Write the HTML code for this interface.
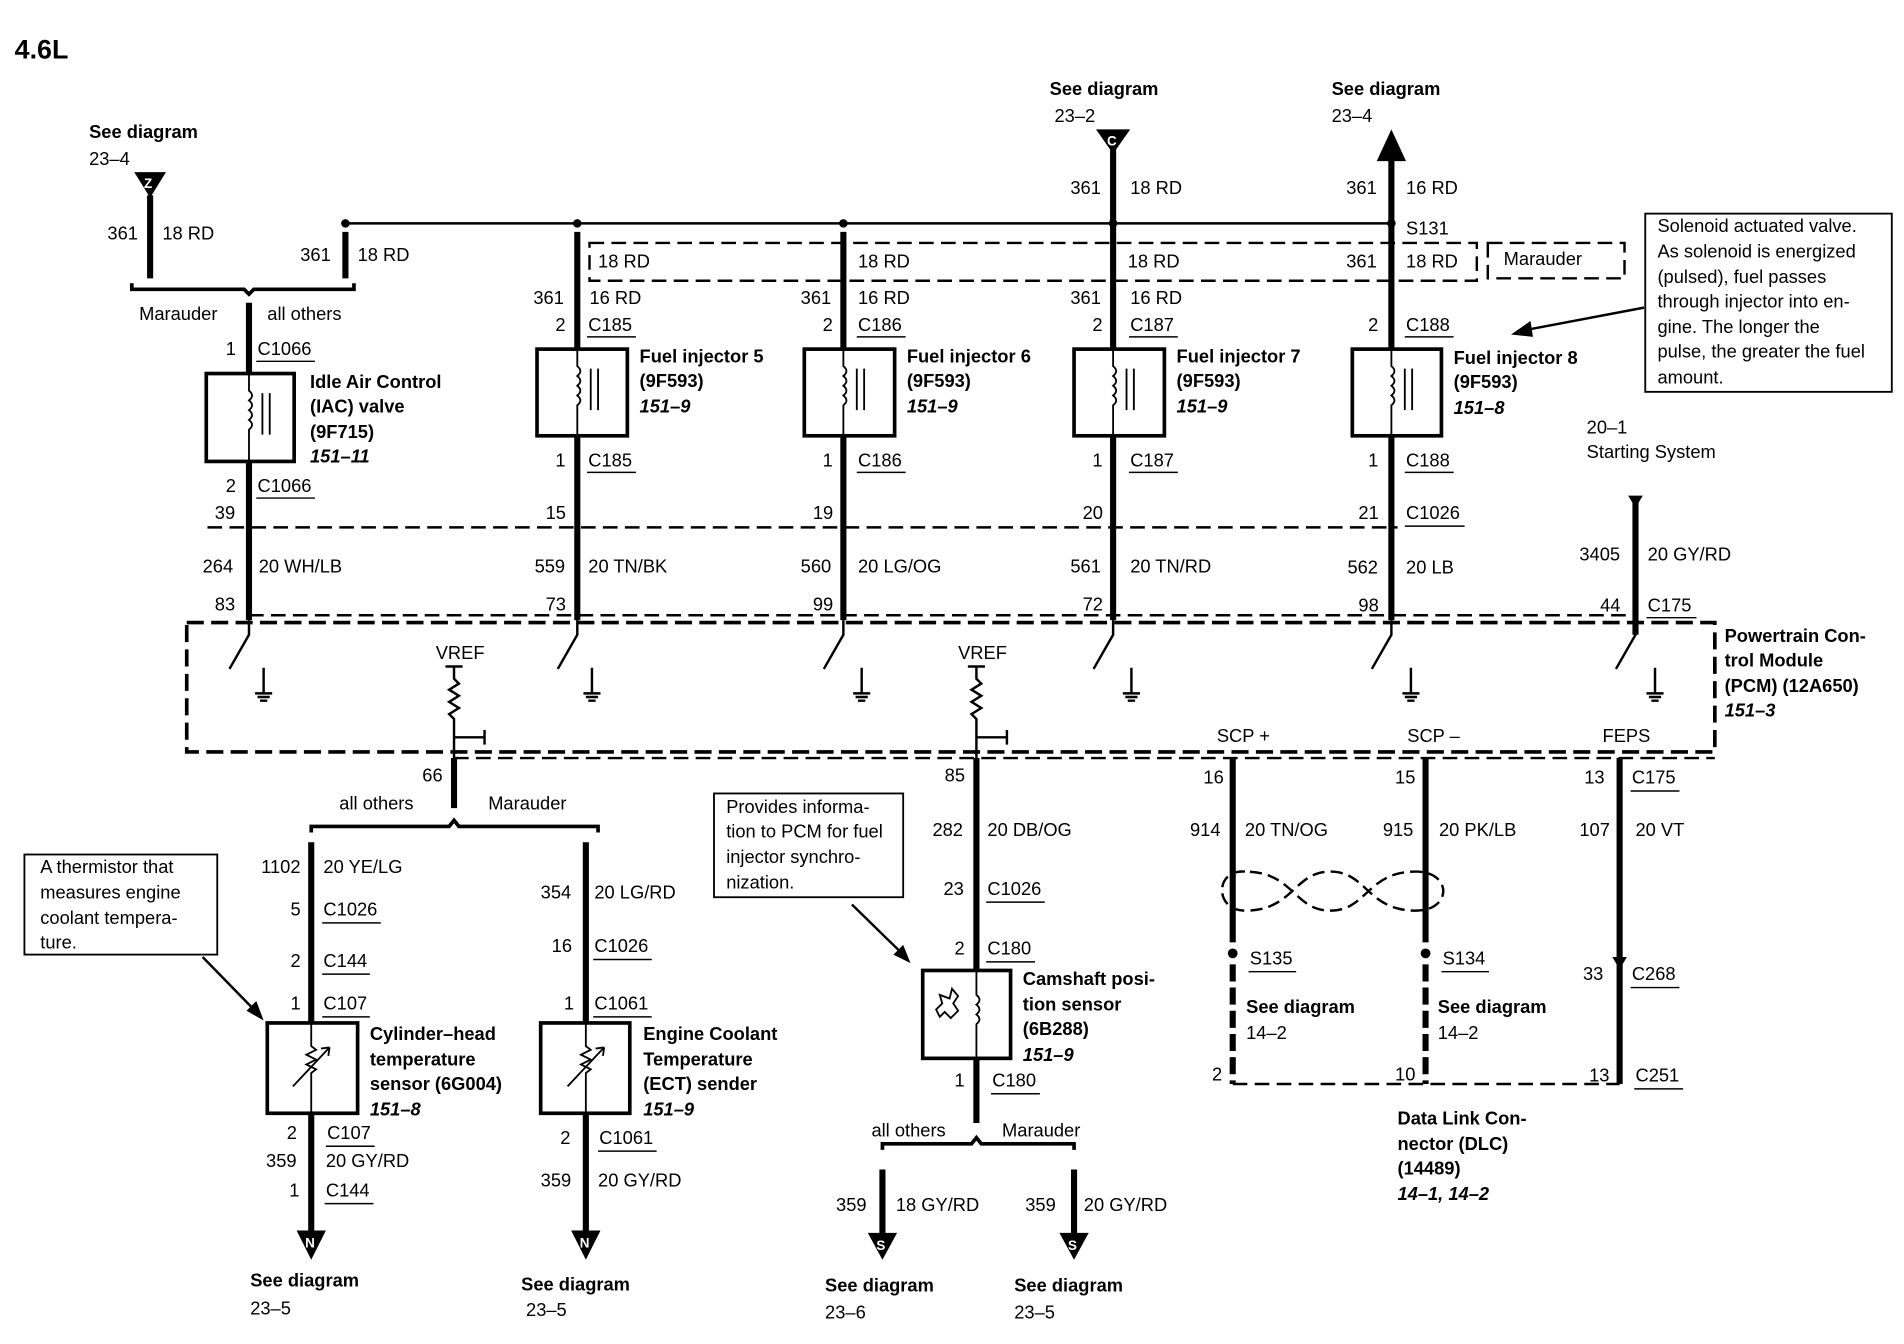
<!DOCTYPE html>
<html><head><meta charset="utf-8"><style>
html,body{margin:0;padding:0;background:#fff;}
svg{display:block;}
text{font-family:"Liberation Sans",sans-serif;font-size:15px;fill:#000;}
.b{font-weight:bold;}
.bi{font-weight:bold;font-style:italic;}
.w{stroke:#000;stroke-width:5;fill:none;}
.t{stroke:#000;stroke-width:2;fill:none;}
.d{stroke:#000;stroke-width:2;fill:none;stroke-dasharray:12,6;}
.D{stroke:#000;stroke-width:3;fill:none;stroke-dasharray:14,6;}
.bx{stroke:#000;stroke-width:3;fill:#fff;}
.nb{stroke:#000;stroke-width:1.5;fill:#fff;}
.u{stroke:#000;stroke-width:1.2;}
</style></head><body>
<svg width="1904" height="1344" viewBox="0 0 1560 1101" preserveAspectRatio="none" xmlns="http://www.w3.org/2000/svg">
<text x="12" y="48" class="b" style="font-size:22px">4.6L</text>

<!-- top bus -->
<line x1="283" y1="183" x2="1140" y2="183" class="t"/>
<circle cx="283" cy="183" r="3.5"/><circle cx="473" cy="183" r="3.5"/><circle cx="691" cy="183" r="3.5"/><circle cx="912" cy="183" r="3.5"/><circle cx="1140" cy="183" r="3.5"/>
<rect x="483" y="199" width="727" height="31" class="d"/>
<rect x="1219" y="199" width="112" height="29" class="d"/>
<text x="1232" y="217">Marauder</text>

<!-- Z left -->
<text x="73" y="113" class="b">See diagram</text><text x="73" y="135">23–4</text>
<polygon points="110,141 136,141 123,162"/><text x="118" y="154" style="fill:#fff;font-size:11px" class="b">Z</text>
<line x1="123" y1="160" x2="123" y2="228" class="w"/>
<text x="88" y="196">361</text><text x="133" y="196">18 RD</text>
<line x1="283" y1="190" x2="283" y2="228" class="w"/>
<text x="246" y="214">361</text><text x="293" y="214">18 RD</text>
<path d="M108,232 V237 H200 L204,241 L208,237 H290 V232" class="t" style="stroke-width:3"/>
<text x="114" y="262">Marauder</text><text x="219" y="262">all others</text>
<line x1="204" y1="248" x2="204" y2="508" class="w"/>
<text x="185" y="291">1</text><text x="211" y="291">C1066</text><line x1="210" y1="296" x2="258" y2="296" class="u"/>
<rect x="169" y="306" width="72" height="72" class="bx"/>
<text x="254" y="318" class="b">Idle Air Control</text><text x="254" y="338" class="b">(IAC) valve</text><text x="254" y="359" class="b">(9F715)</text><text x="254" y="379" class="bi">151–11</text>
<text x="185" y="403">2</text><text x="211" y="403">C1066</text><line x1="210" y1="408" x2="258" y2="408" class="u"/>
<text x="176" y="425">39</text>
<line x1="170" y1="432" x2="1145" y2="432" class="d"/>
<text x="166" y="469">264</text><text x="212" y="469">20 WH/LB</text>
<text x="176" y="500">83</text>

<!-- injectors -->
<line x1="473" y1="190" x2="473" y2="508" class="w"/>
<line x1="691" y1="190" x2="691" y2="508" class="w"/>
<line x1="912" y1="120" x2="912" y2="508" class="w"/>
<line x1="1140" y1="130" x2="1140" y2="508" class="w"/>
<text x="490" y="219">18 RD</text><text x="703" y="219">18 RD</text><text x="924" y="219">18 RD</text><text x="1103" y="219">361</text><text x="1152" y="219">18 RD</text>

<text x="860" y="78" class="b">See diagram</text><text x="864" y="100">23–2</text>
<polygon points="898,106 926,106 912,126"/><text x="907" y="119" style="fill:#fff;font-size:11px" class="b">C</text>
<text x="877" y="159">361</text><text x="926" y="159">18 RD</text>
<text x="1091" y="78" class="b">See diagram</text><text x="1091" y="100">23–4</text>
<polygon points="1128,132 1152,132 1140,106"/>
<text x="1103" y="159">361</text><text x="1152" y="159">16 RD</text>
<text x="1152" y="192">S131</text>

<g>
<text x="437" y="249">361</text><text x="483" y="249">16 RD</text>
<text x="455" y="271">2</text><text x="482" y="271">C185</text><line x1="481" y1="276" x2="521" y2="276" class="u"/>
<rect x="440" y="286" width="74" height="71" class="bx"/>
<text x="524" y="297" class="b">Fuel injector 5</text><text x="524" y="317" class="b">(9F593)</text><text x="524" y="338" class="bi">151–9</text>
<text x="455" y="382">1</text><text x="482" y="382">C185</text><line x1="481" y1="387" x2="521" y2="387" class="u"/>
<text x="447" y="425">15</text>
<text x="438" y="469">559</text><text x="482" y="469">20 TN/BK</text>
<text x="447" y="500">73</text>
</g>
<g>
<text x="656" y="249">361</text><text x="703" y="249">16 RD</text>
<text x="674" y="271">2</text><text x="703" y="271">C186</text><line x1="702" y1="276" x2="742" y2="276" class="u"/>
<rect x="659" y="286" width="74" height="71" class="bx"/>
<text x="743" y="297" class="b">Fuel injector 6</text><text x="743" y="317" class="b">(9F593)</text><text x="743" y="338" class="bi">151–9</text>
<text x="674" y="382">1</text><text x="703" y="382">C186</text><line x1="702" y1="387" x2="742" y2="387" class="u"/>
<text x="666" y="425">19</text>
<text x="656" y="469">560</text><text x="703" y="469">20 LG/OG</text>
<text x="666" y="500">99</text>
</g>
<g>
<text x="877" y="249">361</text><text x="926" y="249">16 RD</text>
<text x="895" y="271">2</text><text x="926" y="271">C187</text><line x1="925" y1="276" x2="965" y2="276" class="u"/>
<rect x="880" y="286" width="74" height="71" class="bx"/>
<text x="964" y="297" class="b">Fuel injector 7</text><text x="964" y="317" class="b">(9F593)</text><text x="964" y="338" class="bi">151–9</text>
<text x="895" y="382">1</text><text x="926" y="382">C187</text><line x1="925" y1="387" x2="965" y2="387" class="u"/>
<text x="887" y="425">20</text>
<text x="877" y="469">561</text><text x="926" y="469">20 TN/RD</text>
<text x="887" y="500">72</text>
</g>
<g>
<text x="1121" y="271">2</text><text x="1152" y="271">C188</text><line x1="1151" y1="276" x2="1191" y2="276" class="u"/>
<rect x="1108" y="286" width="73" height="71" class="bx"/>
<text x="1191" y="298" class="b">Fuel injector 8</text><text x="1191" y="318" class="b">(9F593)</text><text x="1191" y="339" class="bi">151–8</text>
<text x="1121" y="382">1</text><text x="1152" y="382">C188</text><line x1="1151" y1="387" x2="1191" y2="387" class="u"/>
<text x="1113" y="425">21</text><text x="1152" y="425">C1026</text><line x1="1151" y1="431" x2="1200" y2="431" class="u"/>
<text x="1104" y="470">562</text><text x="1152" y="470">20 LB</text>
<text x="1113" y="501">98</text>
</g>
<!-- coil symbols -->
<g class="t" style="stroke-width:1.5">
<path d="M204,306 V320 q5,4 0,8 q5,4 0,8 q5,4 0,8 q5,4 0,8 V378 M215,322 V356 M221,322 V356"/>
<path d="M473,286 V300 q5,4 0,8 q5,4 0,8 q5,4 0,8 q5,4 0,8 V357 M484,302 V336 M490,302 V336"/>
<path d="M691,286 V300 q5,4 0,8 q5,4 0,8 q5,4 0,8 q5,4 0,8 V357 M702,302 V336 M708,302 V336"/>
<path d="M912,286 V300 q5,4 0,8 q5,4 0,8 q5,4 0,8 q5,4 0,8 V357 M923,302 V336 M929,302 V336"/>
<path d="M1140,286 V300 q5,4 0,8 q5,4 0,8 q5,4 0,8 q5,4 0,8 V357 M1151,302 V336 M1157,302 V336"/>
</g>

<!-- solenoid note -->
<rect x="1348" y="175" width="202" height="146" class="nb"/>
<text x="1358" y="190">Solenoid actuated valve.</text><text x="1358" y="211">As solenoid is energized</text><text x="1358" y="232">(pulsed), fuel passes</text><text x="1358" y="252">through injector into en-</text><text x="1358" y="273">gine. The longer the</text><text x="1358" y="293">pulse, the greater the fuel</text><text x="1358" y="314">amount.</text>
<line x1="1347" y1="252" x2="1252" y2="270" class="t"/><polygon points="1238,274 1254,263 1256,276"/>

<text x="1300" y="355">20–1</text><text x="1300" y="375">Starting System</text>
<line x1="1340" y1="408" x2="1340" y2="520" class="w"/>
<polygon points="1334,406 1346,406 1340,416"/>
<text x="1294" y="459">3405</text><text x="1350" y="459">20 GY/RD</text>
<text x="1311" y="501">44</text><text x="1350" y="501">C175</text><line x1="1349" y1="506" x2="1390" y2="506" class="u"/>

<!-- PCM -->
<line x1="204" y1="504" x2="1340" y2="504" class="d"/>
<rect x="153" y="510" width="1252" height="106" class="D"/>
<line x1="372" y1="621" x2="1405" y2="621" class="d"/>
<text x="1413" y="526" class="b">Powertrain Con-</text><text x="1413" y="546" class="b">trol Module</text><text x="1413" y="567" class="b">(PCM) (12A650)</text><text x="1413" y="587" class="bi">151–3</text>
<g class="t">
<path d="M204,508 V520 L188,548 M473,508 V520 L457,548 M691,508 V520 L675,548 M912,508 V520 L896,548 M1140,508 V520 L1124,548 M1340,508 V520 L1324,548"/>
<path d="M216,547 V568 M209,568 H223 M211,571 H221 M213,574 H219"/>
<path d="M485,547 V568 M478,568 H492 M480,571 H490 M482,574 H488"/>
<path d="M706,547 V568 M699,568 H713 M701,571 H711 M703,574 H709"/>
<path d="M927,547 V568 M920,568 H934 M922,571 H932 M924,574 H930"/>
<path d="M1156,547 V568 M1149,568 H1163 M1151,571 H1161 M1153,574 H1159"/>
<path d="M1356,547 V568 M1349,568 H1363 M1351,571 H1361 M1353,574 H1359"/>
<path d="M365,546 H379 M372,546 V556 l4,4 l-8,5 l8,5 l-8,5 l8,5 l-8,5 l4,4 V621 M372,604 H397 M397,598 V610"/>
<path d="M793,546 H807 M800,546 V556 l4,4 l-8,5 l8,5 l-8,5 l8,5 l-8,5 l4,4 V621 M800,604 H825 M825,598 V610"/>
</g>
<text x="357" y="540">VREF</text><text x="785" y="540">VREF</text>
<text x="997" y="608">SCP +</text><text x="1153" y="608">SCP –</text><text x="1313" y="608">FEPS</text>

<!-- lower left -->
<line x1="372" y1="621" x2="372" y2="662" class="w"/>
<text x="346" y="640">66</text>
<path d="M255,682 V677 H368 L372,672 L376,677 H490 V682" class="t" style="stroke-width:3"/>
<text x="278" y="663">all others</text><text x="400" y="663">Marauder</text>
<line x1="255" y1="690" x2="255" y2="1010" class="w"/>
<line x1="480" y1="690" x2="480" y2="1010" class="w"/>
<polygon points="243,1008 267,1008 255,1032"/><text x="250" y="1022" style="fill:#fff;font-size:11px" class="b">N</text>
<polygon points="468,1008 492,1008 480,1032"/><text x="475" y="1022" style="fill:#fff;font-size:11px" class="b">N</text>
<text x="214" y="715">1102</text><text x="265" y="715">20 YE/LG</text>
<text x="238" y="750">5</text><text x="265" y="750">C1026</text><line x1="264" y1="756" x2="312" y2="756" class="u"/>
<text x="238" y="792">2</text><text x="265" y="792">C144</text><line x1="264" y1="798" x2="303" y2="798" class="u"/>
<text x="238" y="827">1</text><text x="265" y="827">C107</text><line x1="264" y1="833" x2="303" y2="833" class="u"/>
<rect x="219" y="838" width="74" height="74" class="bx"/>
<text x="303" y="852" class="b">Cylinder–head</text><text x="303" y="873" class="b">temperature</text><text x="303" y="893" class="b">sensor (6G004)</text><text x="303" y="914" class="bi">151–8</text>
<text x="235" y="933">2</text><text x="268" y="933">C107</text><line x1="267" y1="939" x2="307" y2="939" class="u"/>
<text x="218" y="956">359</text><text x="267" y="956">20 GY/RD</text>
<text x="237" y="980">1</text><text x="267" y="980">C144</text><line x1="266" y1="986" x2="306" y2="986" class="u"/>
<text x="205" y="1054" class="b">See diagram</text><text x="205" y="1077">23–5</text>

<text x="443" y="736">354</text><text x="487" y="736">20 LG/RD</text>
<text x="452" y="780">16</text><text x="487" y="780">C1026</text><line x1="486" y1="786" x2="534" y2="786" class="u"/>
<text x="462" y="827">1</text><text x="487" y="827">C1061</text><line x1="486" y1="833" x2="534" y2="833" class="u"/>
<rect x="443" y="838" width="73" height="74" class="bx"/>
<text x="527" y="852" class="b">Engine Coolant</text><text x="527" y="873" class="b">Temperature</text><text x="527" y="893" class="b">(ECT) sender</text><text x="527" y="914" class="bi">151–9</text>
<text x="459" y="937">2</text><text x="491" y="937">C1061</text><line x1="490" y1="943" x2="538" y2="943" class="u"/>
<text x="443" y="972">359</text><text x="490" y="972">20 GY/RD</text>
<text x="427" y="1057" class="b">See diagram</text><text x="431" y="1078">23–5</text>
<g class="t" style="stroke-width:1.5">
<path d="M255,838 V857 l4,3 l-8,4 l8,4 l-8,4 l8,4 l-4,3 V912 M240,890 L270,858 M270,858 l-7,1 M270,858 l-1,7"/>
<path d="M480,838 V857 l4,3 l-8,4 l8,4 l-8,4 l8,4 l-4,3 V912 M465,890 L495,858 M495,858 l-7,1 M495,858 l-1,7"/>
</g>

<rect x="20" y="700" width="158" height="82" class="nb"/>
<text x="33" y="715">A thermistor that</text><text x="33" y="736">measures engine</text><text x="33" y="757">coolant tempera-</text><text x="33" y="777">ture.</text>
<line x1="166" y1="784" x2="208" y2="827" class="t"/><polygon points="216,836 202,828 210,820"/>

<!-- camshaft -->
<line x1="800" y1="621" x2="800" y2="920" class="w"/>
<text x="774" y="640">85</text>
<text x="764" y="685">282</text><text x="809" y="685">20 DB/OG</text>
<text x="773" y="733">23</text><text x="809" y="733">C1026</text><line x1="808" y1="739" x2="856" y2="739" class="u"/>
<text x="782" y="782">2</text><text x="809" y="782">C180</text><line x1="808" y1="788" x2="848" y2="788" class="u"/>
<rect x="756" y="795" width="72" height="72" class="bx"/>
<g class="t" style="stroke-width:1.5"><path d="M800,795 V815 q5,4 0,8 q5,4 0,8 q5,4 0,8 V867"/><path d="M770,815 l8,3 l2,-8 l5,6 l-4,6 l4,6 l-6,6 l-5,-5 l-4,4 l-3,-6 l5,-5 z"/></g>
<text x="838" y="807" class="b">Camshaft posi-</text><text x="838" y="828" class="b">tion sensor</text><text x="838" y="848" class="b">(6B288)</text><text x="838" y="869" class="bi">151–9</text>
<text x="782" y="890">1</text><text x="813" y="890">C180</text><line x1="812" y1="896" x2="852" y2="896" class="u"/>
<path d="M723,942 V937 H796 L800,932 L804,937 H880 V942" class="t" style="stroke-width:3"/>
<text x="714" y="931">all others</text><text x="821" y="931">Marauder</text>
<line x1="723" y1="958" x2="723" y2="1012" class="w"/>
<line x1="880" y1="958" x2="880" y2="1012" class="w"/>
<polygon points="711,1010 735,1010 723,1032"/><text x="718" y="1024" style="fill:#fff;font-size:11px" class="b">S</text>
<polygon points="868,1010 892,1010 880,1032"/><text x="875" y="1024" style="fill:#fff;font-size:11px" class="b">S</text>
<text x="685" y="992">359</text><text x="734" y="992">18 GY/RD</text>
<text x="840" y="992">359</text><text x="888" y="992">20 GY/RD</text>
<text x="676" y="1058" class="b">See diagram</text><text x="676" y="1080">23–6</text>
<text x="831" y="1058" class="b">See diagram</text><text x="831" y="1080">23–5</text>
<rect x="585" y="650" width="155" height="85" class="nb"/>
<text x="595" y="666">Provides informa-</text><text x="595" y="686">tion to PCM for fuel</text><text x="595" y="707">injector synchro-</text><text x="595" y="728">nization.</text>
<line x1="698" y1="741" x2="738" y2="780" class="t"/><polygon points="746,789 732,782 740,774"/>

<!-- SCP / FEPS -->
<line x1="1010" y1="621" x2="1010" y2="772" class="w"/>
<line x1="1010" y1="790" x2="1010" y2="888" class="w" style="stroke-dasharray:14,5"/>
<line x1="1168" y1="621" x2="1168" y2="772" class="w"/>
<line x1="1168" y1="790" x2="1168" y2="888" class="w" style="stroke-dasharray:14,5"/>
<line x1="1327" y1="621" x2="1327" y2="888" class="w"/>
<circle cx="1010" cy="781" r="4"/><circle cx="1168" cy="781" r="4"/>
<path d="M1020,714 C995,712 995,746 1020,746 C1060,746 1060,714 1090,714 C1120,714 1120,746 1160,746 C1190,746 1190,714 1160,714 C1120,714 1120,746 1090,746 C1060,746 1060,714 1020,714" class="t" style="stroke-dasharray:10,5"/>
<line x1="1010" y1="888" x2="1327" y2="888" class="d"/>
<text x="986" y="642">16</text><text x="975" y="685">914</text><text x="1020" y="685">20 TN/OG</text>
<text x="1143" y="642">15</text><text x="1133" y="685">915</text><text x="1179" y="685">20 PK/LB</text>
<text x="1298" y="642">13</text><text x="1337" y="642">C175</text><line x1="1336" y1="648" x2="1376" y2="648" class="u"/>
<text x="1294" y="685">107</text><text x="1340" y="685">20 VT</text>
<text x="1024" y="790">S135</text><line x1="1023" y1="796" x2="1062" y2="796" class="u"/>
<text x="1182" y="790">S134</text><line x1="1181" y1="796" x2="1220" y2="796" class="u"/>
<text x="1021" y="830" class="b">See diagram</text><text x="1021" y="851">14–2</text>
<text x="1178" y="830" class="b">See diagram</text><text x="1178" y="851">14–2</text>
<text x="1297" y="803">33</text><text x="1337" y="803">C268</text><line x1="1336" y1="809" x2="1376" y2="809" class="u"/>
<polygon points="1321,784 1333,784 1327,794"/>
<text x="993" y="885">2</text><text x="1143" y="885">10</text><text x="1302" y="886">13</text><text x="1340" y="886">C251</text><line x1="1339" y1="892" x2="1379" y2="892" class="u"/>
<text x="1145" y="921" class="b">Data Link Con-</text><text x="1145" y="942" class="b">nector (DLC)</text><text x="1145" y="962" class="b">(14489)</text><text x="1145" y="983" class="bi">14–1, 14–2</text>
</svg>
</body></html>
